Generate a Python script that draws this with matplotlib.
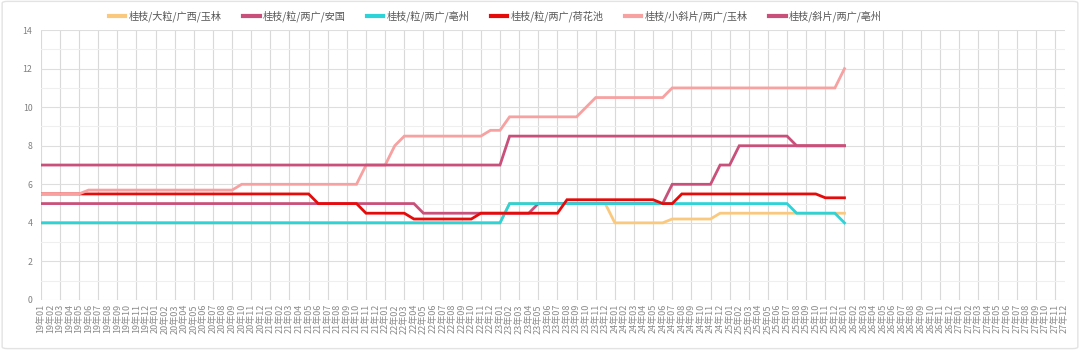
import matplotlib
matplotlib.use("Agg")
import matplotlib.pyplot as plt
from matplotlib.patches import FancyBboxPatch

plt.rcParams['font.family'] = ['Noto Sans CJK SC', 'DejaVu Sans']

# month labels 19年01 .. 27年12
months = [f"{y}年{m:02d}" for y in range(19, 28) for m in range(1, 13)]

names = ['桂枝/大粒/广西/玉林', '桂枝/粒/两广/安国', '桂枝/粒/两广/亳州',
         '桂枝/粒/两广/荷花池', '桂枝/小斜片/两广/玉林', '桂枝/斜片/两广/亳州']
colors = ['#FBC97E', '#C9507A', '#2CD3D8', '#E60B0B', '#F7A1A1', '#C9507A']

# values, 19年01 .. 26年01
dali_yulin = [4.0]*49 + [5.0]*11 + [4.0]*6 + [4.2]*5 + [4.5]*14
li_anguo = [5.0]*40 + [4.5]*12 + [5.0]*14 + [6.0]*5 + [7.0]*2 + [8.0]*12
li_bozhou = [4.0]*49 + [5.0]*30 + [4.5]*5 + [4.0]
li_hehuachi = ([5.5]*29 + [5.0]*5 + [4.5]*5 + [4.2]*7 + [4.5]*9 + [5.2]*10
               + [5.0]*2 + [5.5]*15 + [5.3]*3)
xiaoxiepian_yulin = ([5.5]*5 + [5.7]*16 + [6.0]*13 + [7.0]*3 + [8.0] + [8.5]*9
                     + [8.8]*2 + [9.5]*8 + [10.0] + [10.5]*8 + [11.0]*18 + [12.0])
xiepian_bozhou = [7.0]*49 + [8.5]*30 + [8.0]*6

series = [dali_yulin, li_anguo, li_bozhou, li_hehuachi, xiaoxiepian_yulin, xiepian_bozhou]

fig = plt.figure(figsize=(10.8, 3.5), dpi=100)
ax = fig.add_axes([0.0377, 0.143, 0.948, 0.771])

# light frame around the whole card
fig.patches.append(FancyBboxPatch((0.002, 0.004), 0.996, 0.992,
                                  boxstyle="round,pad=0,rounding_size=0.005",
                                  transform=fig.transFigure, fill=False,
                                  edgecolor='#e3e3e3', linewidth=1.0))

for vals, name, c in zip(series, names, colors):
    ax.plot(months[:len(vals)], vals, color=c, linewidth=2.0, label=name,
            solid_joinstyle='miter')

ax.set_xlim(0, len(months) - 1)
ax.set_ylim(0, 14)
ax.set_xticks(range(len(months)))
ax.set_xticklabels(months, rotation=90, fontsize=6.5, color='#8a8a8a')
ax.set_yticks(range(0, 15, 2))
ax.tick_params(axis='y', labelsize=6.3, colors='#808080', length=0, pad=6)
ax.tick_params(axis='x', length=0, pad=3)

# grid: every second month vertically, every unit horizontally
for i in range(0, len(months), 2):
    ax.axvline(i, color='#d9d9d9', linewidth=0.8, zorder=0)
for v in range(0, 15):
    ax.axhline(v, color='#dedede' if v % 2 == 0 else '#efefef',
               linewidth=0.8, zorder=0)
for s in ax.spines.values():
    s.set_visible(False)

fig.legend(loc='center', bbox_to_anchor=(0.459, 0.954), ncol=6, frameon=False,
           fontsize=7.3, handlelength=1.6, handletextpad=0.35,
           columnspacing=2.1, labelcolor='#555555')
leg = fig.legends[0]
for h in leg.legend_handles:
    h.set_linewidth(3)

fig.savefig('out.png', dpi=100)
